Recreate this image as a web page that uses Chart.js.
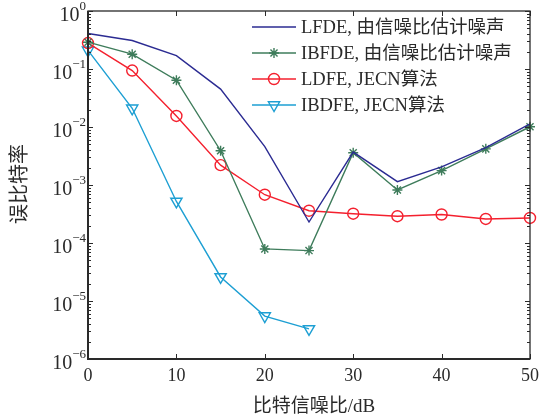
<!DOCTYPE html>
<html>
<head>
<meta charset="utf-8">
<script src="https://cdn.jsdelivr.net/npm/chart.js@4/dist/chart.umd.min.js"></script>
<style>
  html, body { margin: 0; padding: 0; background: #fff; }
  #wrap { width: 542px; height: 419px; }
</style>
</head>
<body>
<div id="wrap"><canvas id="ber-chart" width="542" height="419"></canvas></div>
<script>
// Eb/N0 in dB
const snr = [0, 5, 10, 15, 20, 25, 30, 35, 40, 45, 50];
const snrIbdfe = [0, 5, 10, 15, 20, 25];

// bit error rate per receiver
const berLfde  = [0.41, 0.31, 0.17, 0.045, 0.0046, 2.3e-4, 3.7e-3, 1.14e-3, 2.05e-3, 4.4e-3, 0.0113];
const berIbfde = [0.29, 0.18, 0.064, 3.9e-3, 7.9e-5, 7.4e-5, 3.6e-3, 8.2e-4, 1.77e-3, 4.2e-3, 0.0101];
const berLdfe  = [0.28, 0.094, 0.0155, 2.2e-3, 6.8e-4, 3.6e-4, 3.2e-4, 2.9e-4, 3.1e-4, 2.6e-4, 2.7e-4];
const berIbdfe = [0.21, 0.021, 5.2e-4, 2.6e-5, 5.5e-6, 3.3e-6];

const labels = ['LFDE, 由信噪比估计噪声', 'IBFDE, 由信噪比估计噪声', 'LDFE, JECN算法', 'IBDFE, JECN算法'];
const xTicks = [0, 10, 20, 30, 40, 50];
const yExp = [0, -1, -2, -3, -4, -5, -6];

const ink = '#2a2a2a';
const serif = "'Liberation Serif', 'DejaVu Serif', 'Noto Sans CJK SC', serif";

function pts(xs, ys) {
  return xs.map((x, i) => ({ x: x, y: ys[i] }));
}

// frame, inward ticks, labels and legend
const decorPlugin = {
  id: 'decor',
  afterDraw(chart) {
    const c = chart.ctx;
    const a = chart.chartArea;
    const xs = chart.scales.x;
    const ys = chart.scales.y;
    c.save();

    // ticks
    c.strokeStyle = ink;
    c.lineWidth = 1;
    c.beginPath();
    xTicks.forEach(v => {
      const px = Math.round(xs.getPixelForValue(v)) + 0.5;
      c.moveTo(px, a.bottom); c.lineTo(px, a.bottom - 5);
      c.moveTo(px, a.top); c.lineTo(px, a.top + 5);
    });
    yExp.forEach(e => {
      const py = Math.round(ys.getPixelForValue(Math.pow(10, e))) + 0.5;
      c.moveTo(a.left, py); c.lineTo(a.left + 5, py);
      c.moveTo(a.right, py); c.lineTo(a.right - 5, py);
      if (e > -6) {
        for (let m = 2; m <= 9; m++) {
          const my = Math.round(ys.getPixelForValue(m * Math.pow(10, e - 1))) + 0.5;
          c.moveTo(a.left, my); c.lineTo(a.left + 3, my);
          c.moveTo(a.right, my); c.lineTo(a.right - 3, my);
        }
      }
    });
    c.stroke();

    // frame
    c.lineWidth = 1.3;
    c.strokeRect(a.left, a.top, a.right - a.left, a.bottom - a.top);
    c.lineWidth = 2;
    c.beginPath();
    c.moveTo(a.left, a.top); c.lineTo(a.left, a.bottom); c.lineTo(a.right, a.bottom);
    c.stroke();

    // x tick labels
    c.fillStyle = ink;
    c.font = '18px ' + serif;
    c.textAlign = 'center';
    c.textBaseline = 'middle';
    xTicks.forEach(v => {
      c.fillText(String(v), xs.getPixelForValue(v), a.bottom + 17);
    });

    // y tick labels: 10 with exponent
    yExp.forEach(e => {
      const py = ys.getPixelForValue(Math.pow(10, e));
      const ex = String(e).replace('-', '−');
      c.font = '13px ' + serif;
      const ew = c.measureText(ex).width;
      c.textAlign = 'left';
      c.textBaseline = 'alphabetic';
      const right = 86;
      c.fillText(ex, right - ew, py - 1);
      c.font = '20px ' + serif;
      c.textAlign = 'right';
      c.fillText('10', right - ew, py + 10);
    });

    // axis titles
    c.font = '19px ' + serif;
    c.textAlign = 'center';
    c.textBaseline = 'middle';
    c.fillText('比特信噪比/dB', (a.left + a.right) / 2 + 5, 407);
    c.save();
    c.translate(21, 184);
    c.rotate(-Math.PI / 2);
    c.font = '20px ' + serif;
    c.fillText('误比特率', 0, 0);
    c.restore();

    // legend
    const rows = [27, 53, 79, 105];
    chart.data.datasets.forEach((ds, i) => {
      const y = rows[i];
      c.strokeStyle = ds.borderColor;
      c.lineWidth = ds.borderWidth;
      c.beginPath();
      c.moveTo(252, y); c.lineTo(296, y);
      c.stroke();
      if (ds.pointRadius > 0) {
        c.fillStyle = 'rgba(0,0,0,0)';
        c.strokeStyle = ds.borderColor;
        c.lineWidth = ds.pointBorderWidth;
        Chart.helpers.drawPoint(c, {
          pointStyle: ds.pointStyle,
          rotation: ds.pointRotation || 0,
          radius: ds.pointRadius,
          borderWidth: ds.pointBorderWidth
        }, 274, y);
      }
      c.fillStyle = ink;
      c.font = '18.5px ' + serif;
      c.textAlign = 'left';
      c.textBaseline = 'middle';
      c.fillText(ds.label, 301, y + 1);
    });

    c.restore();
  }
};

function series(label, xs, ys, color, style, radius, rotation) {
  return {
    label: label,
    data: pts(xs, ys),
    borderColor: color,
    backgroundColor: 'transparent',
    borderWidth: 1.4,
    pointStyle: style,
    pointRadius: radius,
    pointRotation: rotation || 0,
    pointBorderWidth: 1.4,
    pointBorderColor: color,
    pointBackgroundColor: 'transparent',
    tension: 0,
    clip: false
  };
}

new Chart(document.getElementById('ber-chart'), {
  type: 'line',
  data: {
    datasets: [
      series(labels[0], snr, berLfde, '#2b2b92', 'circle', 0),
      series(labels[1], snr, berIbfde, '#3e7c5b', 'star', 5),
      series(labels[2], snr, berLdfe, '#f4202e', 'circle', 5.5),
      series(labels[3], snrIbdfe, berIbdfe, '#1d9fd3', 'triangle', 6.5, 180)
    ]
  },
  options: {
    responsive: false,
    animation: false,
    events: [],
    layout: { padding: { top: 11, right: 12, left: 0, bottom: 0 } },
    plugins: {
      legend: { display: false },
      tooltip: { enabled: false }
    },
    scales: {
      x: {
        type: 'linear',
        min: 0,
        max: 50,
        grid: { display: false },
        border: { display: false },
        ticks: { display: false },
        afterFit: s => { s.height = 60; }
      },
      y: {
        type: 'logarithmic',
        min: 1e-6,
        max: 1,
        grid: { display: false },
        border: { display: false },
        ticks: { display: false },
        afterFit: s => { s.width = 88; }
      }
    }
  },
  plugins: [decorPlugin]
});
</script>
</body>
</html>
